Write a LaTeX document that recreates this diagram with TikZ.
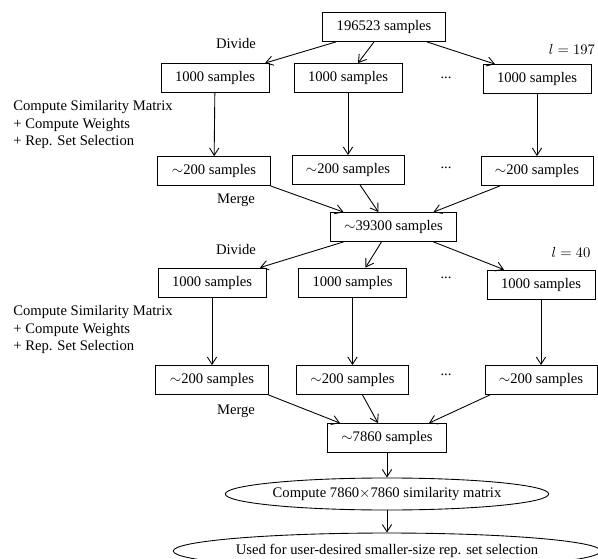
\documentclass[tikz,border=0pt]{standalone}
\usepackage{amsmath}
\usepackage{fontspec}
\setmainfont{Liberation Serif}
\usetikzlibrary{arrows.meta,shapes.geometric,calc}

\tikzset{
  sbox/.style={draw,rectangle,inner xsep=9.6pt,inner ysep=0pt,minimum height=19.8pt},
  sell/.style={draw,ellipse,inner sep=0pt},
  flow/.style={-{Straight Barb[length=5pt,width=6.4pt]}},
  lbl/.style={inner sep=0pt}
}

\begin{document}
\begin{tikzpicture}[x=0.684pt,y=-0.684pt,line width=0.6pt]
\useasboundingbox (0,0) rectangle (598,559);

% first level
\node[sbox] (top) at (384,27) {196523 samples};
\node[sbox] (a1) at (215,78) {1000 samples};
\node[sbox] (a2) at (348,78) {1000 samples};
\node[sbox] (a3) at (537,79) {1000 samples};
\node[sbox] (b1) at (214,171) {$\sim$200 samples};
\node[sbox] (b2) at (348,170) {$\sim$200 samples};
\node[sbox] (b3) at (537,171) {$\sim$200 samples};
\node[sbox] (mid) at (393.5,227) {$\sim$39300 samples};

% second level
\node[sbox] (c1) at (212,282.5) {1000 samples};
\node[sbox] (c2) at (352.5,282.5) {1000 samples};
\node[sbox] (c3) at (541,284.5) {1000 samples};
\node[sbox] (d1) at (212,380) {$\sim$200 samples};
\node[sbox] (d2) at (352.5,380) {$\sim$200 samples};
\node[sbox] (d3) at (541,380) {$\sim$200 samples};
\node[sbox] (last) at (387,438) {$\sim$7860 samples};

\node[sell,minimum width=207pt,minimum height=21.9pt] (sim) at (387,494) {Compute 7860$\times$7860 similarity matrix};
\node[sell,minimum width=290pt,minimum height=24.6pt] (use) at (387,551) {Used for user-desired smaller-size rep. set selection};

% labels
\node[lbl] (div1) at (236,44) {Divide};
\node[lbl] (lev1) at (572,49) {$l=197$};
\node[lbl,anchor=west,align=left] (step1) at (13,124.5) {Compute Similarity Matrix\\+ Compute Weights\\+ Rep. Set Selection};
\node[lbl] (mrg1) at (236,200) {Merge};
\node[lbl] (div2) at (236,249) {Divide};
\node[lbl] (lev2) at (571,252) {$l=40$};
\node[lbl,anchor=west,align=left] (step2) at (13,329.5) {Compute Similarity Matrix\\+ Compute Weights\\+ Rep. Set Selection};
\node[lbl] (mrg2) at (236,411) {Merge};
\node[lbl] (dots1) at (446,78) {...};
\node[lbl] (dots2) at (446,168) {...};
\node[lbl] (dots3) at (446,278) {...};
\node[lbl] (dots4) at (446,375) {...};

% arrows
\draw[flow] ($(top.south)+(-48,0)$) -- ($(a1.north)+(50,0)$);
\draw[flow] ($(top.south)+(-10,0)$) -- ($(a2.north)+(10,0)$);
\draw[flow] ($(top.south)+(43,0)$) -- ($(a3.north)+(-42,0)$);
\draw[flow] (a1) -- (b1);
\draw[flow] (a2) -- (b2);
\draw[flow] (a3) -- (b3);
\draw[flow] (b1.south east) -- ($(mid.north)+(-50,0)$);
\draw[flow] ($(b2.south)+(12,0)$) -- ($(mid.north)+(-15,0)$);
\draw[flow] ($(b3.south)+(-37,0)$) -- ($(mid.north)+(40,0)$);
\draw[flow] ($(mid.south)+(-50,0)$) -- ($(c1.north)+(48,0)$);
\draw[flow] ($(mid.south)+(-12,0)$) -- ($(c2.north)+(13,0)$);
\draw[flow] ($(mid.south)+(40,0)$) -- ($(c3.north)+(-37,0)$);
\draw[flow] (c1) -- (d1);
\draw[flow] (c2) -- (d2);
\draw[flow] (c3) -- (d3);
\draw[flow] (d1.south east) -- ($(last.north)+(-47,0)$);
\draw[flow] ($(d2.south)+(10,0)$) -- ($(last.north)+(-9,0)$);
\draw[flow] ($(d3.south)+(-51,0)$) -- ($(last.north)+(42,0)$);
\draw[flow] (last) -- (sim);
\draw[flow] (sim) -- (use);
\end{tikzpicture}
\end{document}
